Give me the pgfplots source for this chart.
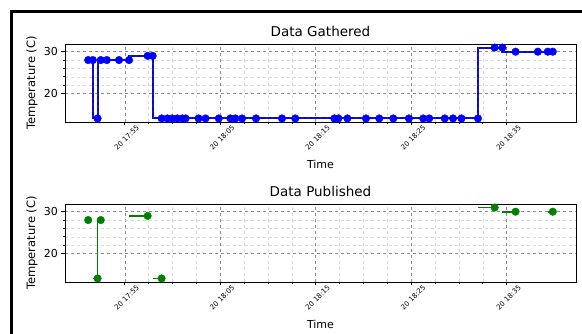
\documentclass[border=0pt]{standalone}
\usepackage{fontspec}
\setmainfont{DejaVu Sans}
\usepackage{pgfplots}
\usepackage{pgfplotstable}
\pgfplotsset{compat=1.18}
\definecolor{navyline}{rgb}{0.1,0.1,0.6}
\definecolor{mplgreen}{rgb}{0,0.5,0}
\pgfplotstableread{
x y
-3.83 28
-3.34 28
-2.85 14
-2.51 28
-1.88 28
-0.60 28
0.45 28
2.40 29
2.92 29
3.86 14
4.46 14
4.98 14
5.50 14
6.03 14
6.37 14
7.73 14
8.46 14
9.85 14
11.07 14
11.59 14
12.29 14
13.75 14
16.47 14
17.86 14
21.96 14
22.38 14
23.32 14
25.27 14
26.66 14
28.13 14
29.77 14
31.26 14
31.89 14
33.52 14
34.39 14
35.27 14
37.00 14
38.75 31
39.55 31
40.94 30
43.27 30
44.31 30
44.84 30
}\gathered
\pgfplotstableread{
x y
-3.83 28
-2.85 14
-2.51 28
2.40 29
3.86 14
38.75 31
40.94 30
44.84 30
}\published
\pgfplotsset{myaxis/.style={
 scale only axis, width=511pt, height=78pt,
 xmin=-6.26, xmax=47.27, ymin=13.15, ymax=31.85,
 xtick={0,10,20,30,40},
 xticklabels={20 17:55,20 18:05,20 18:15,20 18:25,20 18:35},
 minor x tick num=3,
 ytick={20,30}, minor y tick num=4,
 tick pos=left, tick align=outside,
 major tick length=3.5pt, minor tick length=2pt,
 every tick/.style={black, line width=0.6pt},
 grid=both,
 major grid style={dashed, black!45, line width=0.5pt},
 minor grid style={dashed, black!15, line width=0.4pt},
 axis line style={black, line width=0.8pt},
 /pgf/number format/assume math mode=true,
 tick label style={font=\fontsize{11}{12}\selectfont},
 xticklabel style={yshift=-12pt, xshift=2pt, rotate=45, anchor=center, font=\fontsize{7}{8}\selectfont},
 title style={font=\fontsize{13.5}{15}\selectfont, at={(axis description cs:0.5,1)}, anchor=base, yshift=1pt},
 xlabel=Time,
 xlabel style={font=\fontsize{11}{12}\selectfont, at={(axis description cs:0.5,0)}, anchor=center, yshift=-42pt},
 ylabel={Temperature (C)},
 ylabel style={font=\fontsize{11.5}{12}\selectfont, at={(axis description cs:-0.0646,0.5)}, anchor=center},
}}
\begin{document}
\begin{tikzpicture}[x=1pt,y=1pt]
\useasboundingbox (0,0) rectangle (582,334);
\fill[white] (0,0) rectangle (582,334);
\draw[line width=3pt] (11.5,-2) -- (11.5,322.5) -- (584,322.5);
\begin{axis}[myaxis, at={(65pt,212pt)}, anchor=south west, title={Data Gathered}]
\addplot[blue, line width=2pt, const plot mark right, no marks] table[x=x,y=y] {\gathered};
\addplot[navyline, dashed, line width=2pt, const plot mark right, no marks] table[x=x,y=y] {\gathered};
\addplot[only marks, mark=*, mark size=3.8pt, blue, mark options={fill=blue, draw=blue}] table[x=x,y=y] {\gathered};
\end{axis}
\begin{axis}[myaxis, at={(65pt,52pt)}, anchor=south west, title={Data Published}]
\addplot[mplgreen, line width=1.6pt, unbounded coords=jump, no marks] coordinates {
(-3.34,14) (-2.85,14) (-2.85,28) (-2.51,28) (nan,nan)
(0.45,29) (2.40,29) (nan,nan)
(2.92,14) (3.86,14) (nan,nan)
(37.00,31) (38.75,31) (nan,nan)
(39.55,30) (40.94,30) (nan,nan)
(44.31,30) (44.84,30)
};
\addplot[only marks, mark=*, mark size=3.8pt, mplgreen, mark options={fill=mplgreen, draw=mplgreen}] table[x=x,y=y] {\published};
\end{axis}
\end{tikzpicture}
\end{document}
